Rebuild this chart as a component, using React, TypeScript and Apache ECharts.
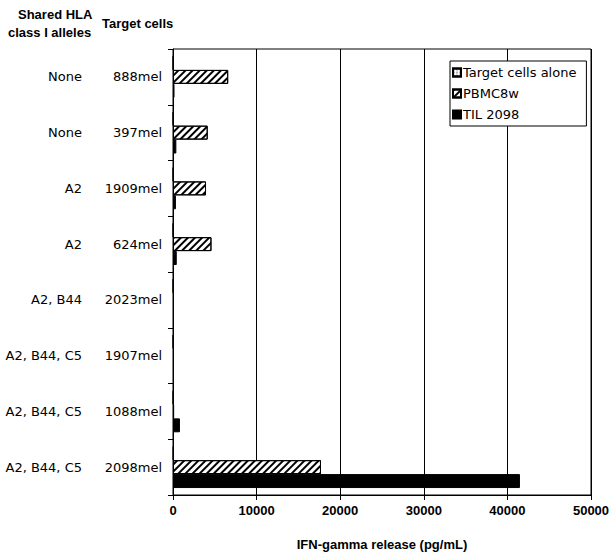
import React, { useEffect, useRef } from "react";
import * as echarts from "echarts";

const targetCells = ["888mel", "397mel", "1909mel", "624mel", "2023mel", "1907mel", "1088mel", "2098mel"];
const sharedAlleles = ["None", "None", "A2", "A2", "A2, B44", "A2, B44, C5", "A2, B44, C5", "A2, B44, C5"];
const targetAlone = [60, 60, 60, 60, 60, 60, 60, 80];
const pbmc8w = [6600, 4150, 3950, 4600, 120, 120, 130, 17700];
const til2098 = [180, 400, 350, 450, 120, 120, 830, 41500];
const xTicks = { min: 0, max: 50000, interval: 10000 };

const FONT = "'DejaVu Sans', Verdana, sans-serif";
const ARIAL = "'Liberation Sans', Arial, sans-serif";

export default function App() {
  const ref = useRef<HTMLDivElement>(null);
  useEffect(() => {
    if (!ref.current) return;
    const chart = echarts.init(ref.current, null, { renderer: "svg" });
    chart.setOption({
      animation: false,
      backgroundColor: "#fff",
      grid: {
        left: 173,
        right: 23,
        top: 49,
        bottom: 55,
        show: true,
        borderColor: "#000",
        borderWidth: 1,
        backgroundColor: "transparent",
      },
      legend: {
        orient: "vertical",
        left: 450,
        top: 61,
        backgroundColor: "#fff",
        borderColor: "#000",
        borderWidth: 1,
        borderRadius: 0,
        padding: [5, 10, 5, 2],
        itemWidth: 8,
        itemHeight: 8,
        itemGap: 8,
        icon: "rect",
        textStyle: { fontFamily: FONT, fontSize: 13, color: "#000", padding: [0, 0, 0, -3] },
        data: ["Target cells alone", "PBMC8w", "TIL 2098"],
      },
      xAxis: {
        type: "value",
        min: xTicks.min,
        max: xTicks.max,
        interval: xTicks.interval,
        name: "IFN-gamma release (pg/mL)",
        nameLocation: "middle",
        nameGap: 43,
        nameTextStyle: { fontFamily: ARIAL, fontWeight: "bold", fontSize: 13, color: "#000" },
        axisLine: { show: true, lineStyle: { color: "#000", width: 1 } },
        axisTick: { show: true, length: 5, lineStyle: { color: "#000" } },
        axisLabel: {
          fontFamily: ARIAL,
          fontWeight: "bold",
          fontSize: 13,
          color: "#000",
          margin: 9,
          formatter: (v: number) => String(v),
        },
        splitLine: { show: true, lineStyle: { color: "#000", width: 1 } },
      },
      yAxis: {
        type: "category",
        inverse: true,
        data: targetCells,
        axisLine: { show: true, lineStyle: { color: "#000", width: 1 } },
        axisTick: { show: true, length: 5, lineStyle: { color: "#000" } },
        axisLabel: {
          margin: 11,
          formatter: (v: string, i: number) => `{a|${sharedAlleles[i]}}{b|${v}}`,
          rich: {
            a: { width: 80, align: "right", fontFamily: FONT, fontSize: 13, color: "#000" },
            b: { width: 80, align: "right", fontFamily: FONT, fontSize: 13, color: "#000" },
          },
        },
      },
      series: [
        {
          name: "Target cells alone",
          type: "bar",
          data: targetAlone,
          barGap: "0%",
          barCategoryGap: "25%",
          itemStyle: {
            color: "#fff",
            borderColor: "#000",
            borderWidth: 1,
            decal: { symbol: "rect", symbolSize: 0.6, dashArrayX: [2, 1], dashArrayY: [2, 1], color: "#000" },
          },
        },
        {
          name: "PBMC8w",
          type: "bar",
          data: pbmc8w,
          barGap: "0%",
          barCategoryGap: "25%",
          itemStyle: {
            color: "#fff",
            borderColor: "#000",
            borderWidth: 1,
            decal: { symbol: "rect", symbolSize: 1, dashArrayX: [1, 0], dashArrayY: [1.5, 3], rotation: -Math.PI / 4, color: "#000" },
          },
        },
        {
          name: "TIL 2098",
          type: "bar",
          data: til2098,
          barGap: "0%",
          barCategoryGap: "25%",
          itemStyle: { color: "#000", borderColor: "#000", borderWidth: 1 },
        },
      ],
      graphic: [
        { type: "text", left: 18, top: 8, style: { text: "Shared HLA", font: `bold 13px ${ARIAL}`, fill: "#000" } },
        { type: "text", left: 8, top: 26, style: { text: "class I alleles", font: `bold 13px ${ARIAL}`, fill: "#000" } },
        { type: "text", left: 102, top: 17, style: { text: "Target cells", font: `bold 13px ${ARIAL}`, fill: "#000" } },
      ],
    });
    return () => chart.dispose();
  }, []);
  return <div ref={ref} style={{ position: "fixed", left: 0, top: 0, width: 614, height: 556 }} />;
}
